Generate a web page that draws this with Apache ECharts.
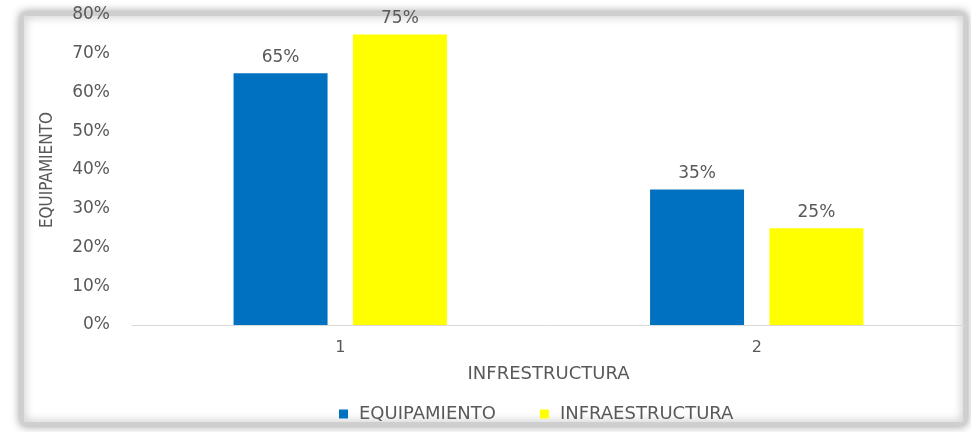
<!DOCTYPE html>
<html>
<head>
<meta charset="utf-8">
<script src="https://cdn.jsdelivr.net/npm/echarts@6/dist/echarts.min.js"></script>
<style>html,body{margin:0;padding:0;background:#fff}#c{width:971px;height:432px}</style>
</head>
<body>
<div id="c"></div>
<script>
var categories = ['1', '2'];
var seriesNames = ['EQUIPAMIENTO', 'INFRAESTRUCTURA'];
var equipamiento = [65, 35];
var infraestructura = [75, 25];
var yTicks = [0, 10, 20, 30, 40, 50, 60, 70, 80];

var txt = '#595959';
var font = 'DejaVu Sans';
var chart = echarts.init(document.getElementById('c'));
chart.setOption({
  backgroundColor: '#fff',
  animation: false,
  graphic: [{
    type: 'rect', z: -10, silent: true,
    shape: { x: 22, y: 14, width: 943, height: 410, r: 3 },
    style: { fill: '#fff', stroke: '#cfcfcf', lineWidth: 4, shadowBlur: 10, shadowColor: 'rgba(0,0,0,0.35)' }
  }],
  legend: {
    left: 334, top: 400,
    itemWidth: 9, itemHeight: 9, itemGap: 44,
    icon: 'rect',
    textStyle: { color: txt, fontFamily: font, fontSize: 18, padding: [0, 0, 0, 6] },
    data: seriesNames
  },
  grid: { left: 132, right: 6, top: 15, bottom: 107 },
  xAxis: {
    type: 'category',
    data: categories,
    name: 'INFRESTRUCTURA',
    nameLocation: 'middle',
    nameGap: 40,
    nameTextStyle: { color: txt, fontFamily: font, fontSize: 18 },
    axisLine: { lineStyle: { color: '#d9d9d9', width: 1 } },
    axisTick: { show: false },
    axisLabel: { color: txt, fontFamily: font, fontSize: 16, margin: 15 }
  },
  yAxis: {
    type: 'value',
    min: yTicks[0], max: yTicks[yTicks.length - 1], interval: 10,
    name: 'EQUIPAMIENTO',
    nameLocation: 'middle',
    nameGap: 76,
    nameRotate: 90,
    nameTextStyle: { color: txt, fontFamily: '"Liberation Sans Narrow", "DejaVu Sans Condensed", sans-serif', fontSize: 17 },
    axisLine: { show: false },
    axisTick: { show: false },
    splitLine: { show: false },
    axisLabel: { color: txt, fontFamily: font, fontSize: 17, margin: 22, formatter: '{value}%' }
  },
  series: [{
    name: seriesNames[0], type: 'bar', data: equipamiento,
    barWidth: 94, barGap: '27%',
    itemStyle: { color: '#0070C0' },
    label: { show: true, position: 'top', distance: 7, color: txt, fontFamily: font, fontSize: 17, formatter: '{c}%' }
  }, {
    name: seriesNames[1], type: 'bar', data: infraestructura,
    barWidth: 94,
    itemStyle: { color: '#FFFF00' },
    label: { show: true, position: 'top', distance: 7, color: txt, fontFamily: font, fontSize: 17, formatter: '{c}%' }
  }]
});
</script>
</body>
</html>
